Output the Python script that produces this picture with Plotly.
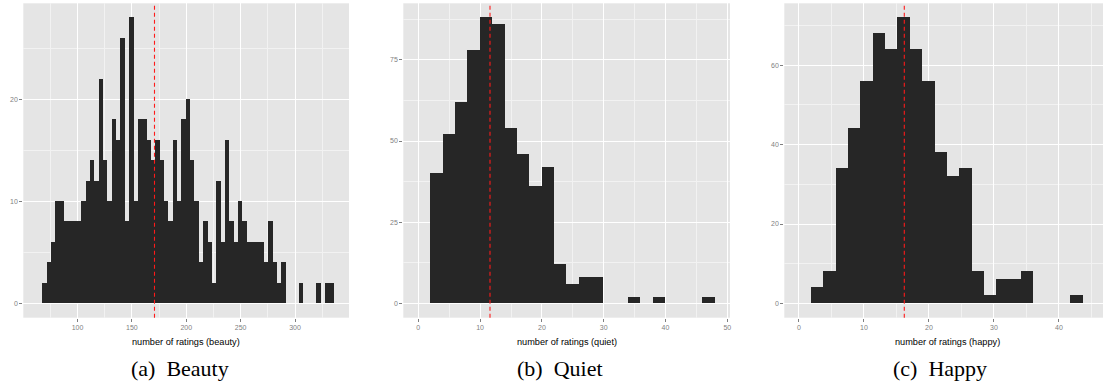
import plotly.graph_objects as go

W, H = 1103, 385

# ---- data ----
beauty_bin_start = 67.8
beauty_bin_width = 4.0
beauty_counts = [2, 4, 6, 10, 10, 8, 8, 8, 8, 10, 12, 14, 12, 22, 14, 10, 18, 16, 26, 8,
                 28, 10, 18, 18, 16, 14, 16, 14, 10, 8, 16, 10, 18, 20, 14, 10, 4, 8, 6, 2,
                 12, 6, 16, 8, 6, 10, 8, 6, 6, 6, 6, 4, 8, 4, 2, 4, 0, 0, 0, 2,
                 0, 0, 0, 2, 0, 2, 2]
beauty_mean = 170.8

quiet_bin_start = 2.0
quiet_bin_width = 2.0
quiet_counts = [40, 52, 62, 78, 88, 86, 54, 46, 36, 42, 12, 6, 8, 8, 0, 0, 2, 0, 2, 0, 0, 0, 2]
quiet_mean = 11.6

happy_bin_start = 1.9
happy_bin_width = 1.9
happy_counts = [4, 8, 34, 44, 56, 68, 64, 72, 64, 56, 38, 32, 34, 8, 2, 6, 6, 8, 0, 0, 0, 2]
happy_mean = 16.2

x_titles = ["number of ratings (beauty)", "number of ratings (quiet)", "number of ratings (happy)"]
captions = ["(a)\u2002Beauty", "(b)\u2002Quiet", "(c)\u2002Happy"]

beauty_xticks = [100, 150, 200, 250, 300]
beauty_yticks = [0, 10, 20]
quiet_xticks = [0, 10, 20, 30, 40, 50]
quiet_yticks = [0, 25, 50, 75]
happy_xticks = [0, 10, 20, 30, 40]
happy_yticks = [0, 20, 40, 60]

# ---- layout geometry (pixels) ----
panels = [
    dict(counts=beauty_counts, start=beauty_bin_start, width=beauty_bin_width, mean=beauty_mean,
         px=(23.3, 349.0), xr=[50.2, 349.6], yr=[-1.4, 29.4], xt=beauty_xticks, yt=beauty_yticks,
         xminor=25, yminor=5, title_c=186, cap_c=180),
    dict(counts=quiet_counts, start=quiet_bin_start, width=quiet_bin_width, mean=quiet_mean,
         px=(403.3, 730.0), xr=[-2.43, 50.44], yr=[-4.4, 92.4], xt=quiet_xticks, yt=quiet_yticks,
         xminor=5, yminor=12.5, title_c=566.5, cap_c=560),
    dict(counts=happy_counts, start=happy_bin_start, width=happy_bin_width, mean=happy_mean,
         px=(784.3, 1103.0), xr=[-2.26, 46.77], yr=[-3.6, 75.6], xt=happy_xticks, yt=happy_yticks,
         xminor=5, yminor=10, title_c=947, cap_c=940),
]

top_px, bot_px = 3.3, 317.7
ydom = [1 - bot_px / H, 1 - top_px / H]

fig = go.Figure()
grey_txt = "#7f7f7f"
for i, p in enumerate(panels):
    n = i + 1
    xa = "x" if n == 1 else f"x{n}"
    ya = "y" if n == 1 else f"y{n}"
    centers = [p["start"] + (k + 0.5) * p["width"] for k in range(len(p["counts"]))]
    fig.add_trace(go.Bar(
        x=centers, y=p["counts"], width=p["width"],
        marker=dict(color="#262626", line=dict(width=0)),
        xaxis=xa, yaxis=ya, showlegend=False, hoverinfo="x+y"))
    axkw = dict(showline=False, zeroline=False, showgrid=True, gridcolor="white", gridwidth=1.1,
                ticks="outside", ticklen=3, tickcolor=grey_txt, tickwidth=1,
                tickfont=dict(family="Liberation Sans, Arial", size=7, color=grey_txt))
    fig.layout[f"xaxis{'' if n == 1 else n}"] = dict(
        domain=[p["px"][0] / W, min(p["px"][1] / W, 1.0)], range=p["xr"], anchor=ya,
        tickvals=p["xt"], ticktext=[str(v) for v in p["xt"]],
        minor=dict(dtick=p["xminor"], tick0=0, showgrid=True, gridcolor="#F2F2F2", gridwidth=0.6, ticks=""),
        **axkw)
    fig.layout[f"yaxis{'' if n == 1 else n}"] = dict(
        domain=ydom, range=p["yr"], anchor=xa,
        tickvals=p["yt"], ticktext=[str(v) for v in p["yt"]],
        minor=dict(dtick=p["yminor"], tick0=0, showgrid=True, gridcolor="#F2F2F2", gridwidth=0.6, ticks=""),
        **axkw)
    # mean line
    fig.add_shape(type="line", xref=xa, yref=f"{ya} domain", x0=p["mean"], x1=p["mean"], y0=0, y1=1,
                  line=dict(color="#ff1a1a", width=1.1, dash="4px,3px"), layer="above")
    # axis title
    fig.add_annotation(text=x_titles[i], xref="paper", yref="paper",
                       x=p["title_c"] / W, y=1 - 341.5 / H, xanchor="center", yanchor="middle",
                       showarrow=False, font=dict(family="Liberation Sans, Arial", size=9.2, color="black"))
    # caption
    fig.add_annotation(text=captions[i], xref="paper", yref="paper",
                       x=p["cap_c"] / W, y=1 - 368 / H, xanchor="center", yanchor="middle",
                       showarrow=False, font=dict(family="Liberation Serif, Times New Roman", size=22, color="black"))

fig.update_layout(width=W, height=H, margin=dict(l=0, r=0, t=0, b=0),
                  plot_bgcolor="#E5E5E5", paper_bgcolor="white", bargap=0)
fig.write_html("out.html", config={"displayModeBar": False},
               post_script="document.body.style.margin='0';document.body.style.overflow='hidden';")
